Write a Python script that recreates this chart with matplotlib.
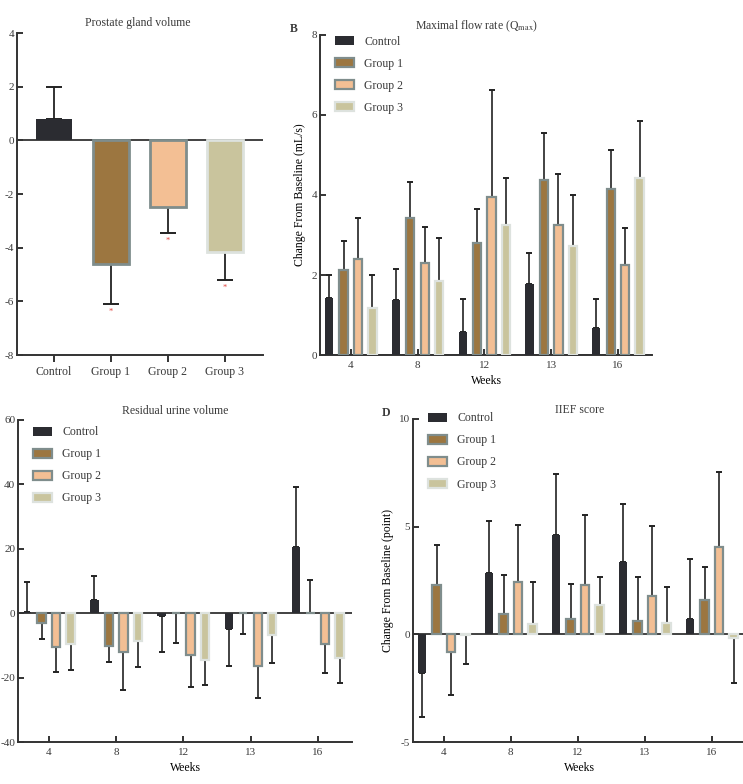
import matplotlib.pyplot as plt
import numpy as np

# ---- data -------------------------------------------------------------
groups = ["Control", "Group 1", "Group 2", "Group 3"]
weeks = ["4", "8", "12", "13", "16"]

# A: prostate gland volume (mean, signed error length)
prostate_mean = [0.8, -4.6, -2.5, -4.15]
prostate_err = [1.2, -1.5, -0.95, -1.05]
prostate_star = [False, True, True, True]

# B: maximal flow rate, rows = groups, cols = weeks
qmax_mean = [
    [1.42, 1.37, 0.58, 1.78, 0.68],
    [2.12, 3.42, 2.80, 4.38, 4.14],
    [2.40, 2.30, 3.95, 3.24, 2.24],
    [1.17, 1.85, 3.24, 2.73, 4.42],
]
qmax_err = [
    [0.58, 0.77, 0.81, 0.78, 0.71],
    [0.73, 0.91, 0.84, 1.16, 0.98],
    [1.02, 0.90, 2.67, 1.29, 0.94],
    [0.83, 1.08, 1.18, 1.27, 1.44],
]

# C: residual urine volume
urine_mean = [
    [0.3, 4.2, -1.0, -5.0, 20.7],
    [-3.0, -10.1, 0.2, 0.2, 0.2],
    [-10.5, -12.2, -13.1, -16.3, -9.5],
    [-9.5, -8.5, -14.5, -6.7, -14.0],
]
urine_err = [
    [9.3, 7.5, -10.9, -11.5, 18.4],
    [-5.0, -5.2, -9.3, -6.8, 10.2],
    [-7.9, -11.5, -9.7, -10.0, -9.1],
    [-8.1, -8.3, -7.9, -8.8, -7.7],
]

# D: IIEF score
iief_mean = [
    [-1.81, 2.86, 4.60, 3.38, 0.70],
    [2.27, 0.96, 0.70, 0.62, 1.58],
    [-0.80, 2.43, 2.27, 1.76, 4.06],
    [-0.05, 0.49, 1.34, 0.54, -0.15],
]
iief_err = [
    [-2.02, 2.40, 2.85, 2.69, 2.82],
    [1.89, 1.79, 1.66, 2.05, 1.57],
    [-2.03, 2.67, 3.26, 3.29, 3.47],
    [-1.31, 1.95, 1.32, 1.67, -2.09],
]

# ---- style ------------------------------------------------------------
face = ["#2b2c31", "#9c7640", "#f3bf94", "#c9c49d"]
edge = ["#2b2c31", "#7f8d8c", "#7f8d8c", "#dde2de"]
ink = "#3a3a3a"

plt.rcParams["font.family"] = ["Liberation Serif", "DejaVu Serif"]
plt.rcParams["font.size"] = 8
plt.rcParams["axes.unicode_minus"] = False
plt.rcParams["text.color"] = ink
plt.rcParams["axes.edgecolor"] = "#333333"
plt.rcParams["xtick.color"] = "#333333"
plt.rcParams["ytick.color"] = "#333333"
plt.rcParams["xtick.labelcolor"] = ink
plt.rcParams["ytick.labelcolor"] = ink
plt.rcParams["mathtext.fontset"] = "stix"

W, H = 743, 784
fig = plt.figure(figsize=(W / 100, H / 100), dpi=100)


def px_axes(left, top, right, bottom):
    return fig.add_axes([left / W, 1 - bottom / H, (right - left) / W, (bottom - top) / H])


def style(ax):
    for s in ("top", "right"):
        ax.spines[s].set_visible(False)
    for s in ("left", "bottom"):
        ax.spines[s].set_linewidth(1.4)
    ax.tick_params(axis="y", direction="in", length=4, width=1.4, pad=2)


def signed(err):
    err = np.asarray(err, dtype=float)
    return [np.clip(-err, 0, None), np.clip(err, 0, None)]


def grouped(ax, means, errs, ylim, yticks, title, title_x, legend_y,
            ylabel=None, letter=None):
    x = np.arange(len(weeks))
    step, width = 0.216, 0.125
    for i, g in enumerate(groups):
        pos = x + (i - 1.5) * step
        ax.bar(pos, means[i], width, color=face[i], edgecolor=edge[i],
               linewidth=1.6 if i else 0, label=g, zorder=3)
        ax.errorbar(pos, means[i], yerr=signed(errs[i]), fmt="none",
                    ecolor="#222222", elinewidth=1.2, capsize=2.2, capthick=1.4, zorder=2)
    ax.axhline(0, color="#333333", lw=1.3, zorder=1)
    ax.set_xlim(-0.46, 4.51)
    ax.set_ylim(*ylim)
    ax.set_yticks(yticks)
    ax.set_xticks(x, weeks)
    ax.tick_params(axis="x", direction="in", length=4, width=1.4, pad=4)
    style(ax)
    ax.set_title(title, x=title_x, pad=4, fontsize=8.5)
    ax.set_xlabel("Weeks", fontsize=8.5, labelpad=4)
    if ylabel:
        ax.set_ylabel(ylabel, fontsize=8.5, labelpad=4)
    ax.legend(loc="upper left", bbox_to_anchor=(0.03, legend_y), frameon=False,
              handlelength=1.6, handleheight=0.8, handletextpad=0.9,
              labelspacing=0.85, fontsize=8.5, borderaxespad=0)
    if letter:
        ax.text(-0.08, 1.02, letter, transform=ax.transAxes, fontweight="bold",
                fontsize=8.5, ha="center", va="center")


# ---- A: prostate gland volume ----------------------------------------
axA = px_axes(17, 33, 263, 355)
xa = np.arange(len(groups))
for i in range(len(groups)):
    axA.bar(xa[i], prostate_mean[i], 0.63, color=face[i], edgecolor=edge[i],
            linewidth=2.0 if i else 0, zorder=3)
axA.errorbar(xa, prostate_mean, yerr=signed(prostate_err), fmt="none",
             ecolor="#222222", elinewidth=1.3, capsize=6, capthick=1.4, zorder=2)
for i in range(len(groups)):
    if prostate_star[i]:
        axA.text(xa[i], prostate_mean[i] + prostate_err[i] - 0.3, "*", color="#e0403a",
                 ha="center", va="center", fontsize=6)
axA.axhline(0, color="#333333", lw=1.3, zorder=1)
axA.set_xlim(-0.65, 3.67)
axA.set_ylim(-8, 4)
axA.set_yticks(range(-8, 5, 2))
axA.set_xticks(xa, groups)
axA.tick_params(axis="x", direction="out", length=5, width=1.4, pad=3, labelsize=8.5)
style(axA)
axA.set_title("Prostate gland volume", x=0.49, pad=5, fontsize=8.5)

# ---- B: maximal flow rate --------------------------------------------
axB = px_axes(320, 35, 652, 355)
grouped(axB, qmax_mean, qmax_err, (0, 8), [0, 2, 4, 6, 8],
        "Maximal flow rate (Q$_{\\mathrm{max}}$)", 0.47, 1.012,
        ylabel="Change From Baseline (mL/s)", letter="B")

# ---- C: residual urine volume ----------------------------------------
axC = px_axes(18, 420, 352, 742)
grouped(axC, urine_mean, urine_err, (-40, 60), [-40, -20, 0, 20, 40, 60],
        "Residual urine volume", 0.47, 0.995)

# ---- D: IIEF score ---------------------------------------------------
axD = px_axes(413, 419, 746, 742)
grouped(axD, iief_mean, iief_err, (-5, 10), [-5, 0, 5, 10],
        "IIEF score", 0.5, 1.035, ylabel="Change From Baseline (point)", letter="D")

fig.savefig("out.png", dpi=100)
